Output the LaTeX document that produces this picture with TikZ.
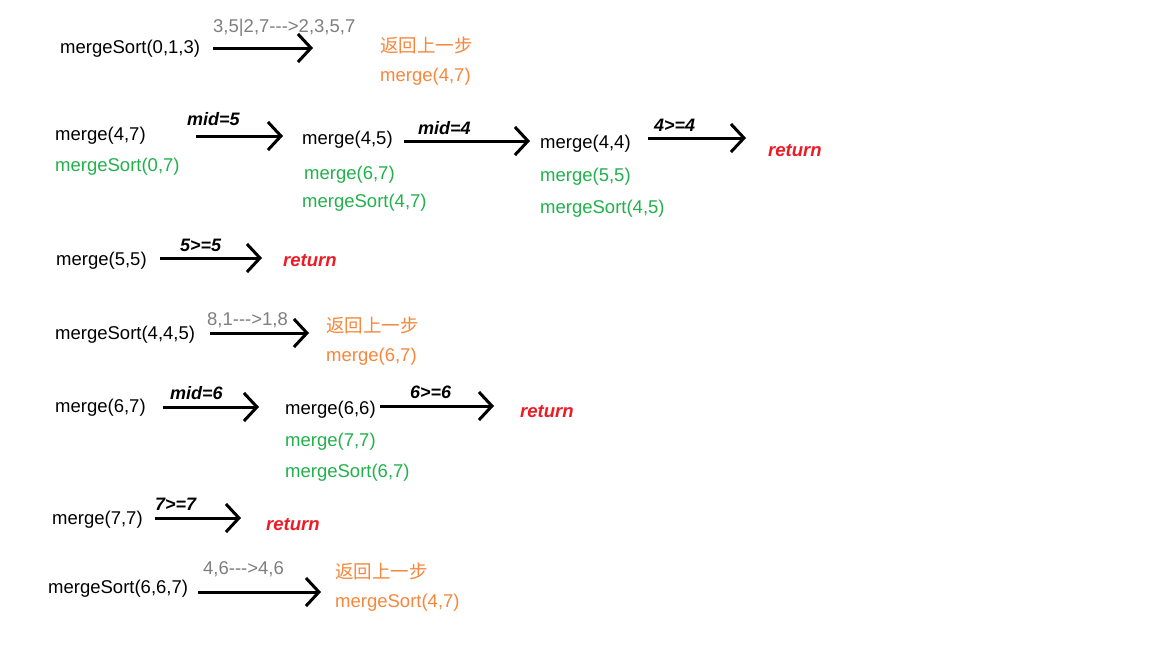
\documentclass[tikz,border=0pt]{standalone}
\usepackage{fontspec}
\setmainfont{Liberation Sans}
\newfontfamily\cjk{Noto Sans CJK SC}
\usetikzlibrary{arrows.meta}
\definecolor{ogreen}{RGB}{34,177,76}
\definecolor{oorange}{RGB}{247,135,60}
\definecolor{ored}{RGB}{237,28,36}
\definecolor{ogray}{RGB}{127,127,127}
\begin{document}
\begin{tikzpicture}[x=1pt,y=-1pt,
  every node/.style={anchor=west,inner sep=0pt,font=\fontsize{18.5}{20}\selectfont},
  call/.style={text=black},
  pend/.style={text=ogreen},
  back/.style={text=oorange},
  note/.style={text=ogray},
  cond/.style={text=black,font=\fontsize{18}{20}\selectfont\bfseries\itshape},
  ret/.style={text=ored,font=\fontsize{18.5}{20}\selectfont\bfseries\itshape},
  flow/.style={line width=3pt,-{Straight Barb[length=13pt,width=28pt,line width=3pt]}}]
\useasboundingbox[fill=white] (0,0) rectangle (1152,648);

% Row 1
\node[call] (a1) at (60,49) {mergeSort(0,1,3)};
\node[note] (a1n) at (213,28) {3,5|2,7-{}-{}->2,3,5,7};
\node[back] (a1b) at (380,45) {\cjk 返回上一步};
\node[back] (a1c) at (380,77) {merge(4,7)};
\coordinate (a1s) at (213,48);
\coordinate (a1e) at (313,48);
\draw[flow] (a1s) -- (a1e);

% Row 2
\node[call] (b1) at (55,136) {merge(4,7)};
\node[pend] (b1g) at (55,167) {mergeSort(0,7)};
\node[cond] (b1l) at (187,119) {mid=5};
\node[call] (b2) at (302,140) {merge(4,5)};
\node[pend] (b2g) at (304,175) {merge(6,7)};
\node[pend] (b2h) at (302,203) {mergeSort(4,7)};
\node[cond] (b2l) at (418,128) {mid=4};
\node[call] (b3) at (540,144) {merge(4,4)};
\node[pend] (b3g) at (540,177) {merge(5,5)};
\node[pend] (b3h) at (540,209) {mergeSort(4,5)};
\node[cond] (b3l) at (654,125) {4>=4};
\node[ret] (b4) at (768,151) {return};
\coordinate (b1s) at (196,136);
\coordinate (b1e) at (283,136);
\coordinate (b2s) at (404,141);
\coordinate (b2e) at (530,141);
\coordinate (b3s) at (648,138);
\coordinate (b3e) at (746,138);
\draw[flow] (b1s) -- (b1e);
\draw[flow] (b2s) -- (b2e);
\draw[flow] (b3s) -- (b3e);

% Row 3
\node[call] (c1) at (56,261) {merge(5,5)};
\node[cond] (c1l) at (180,245) {5>=5};
\node[ret] (c2) at (283,261) {return};
\coordinate (c1s) at (160,258);
\coordinate (c1e) at (262,258);
\draw[flow] (c1s) -- (c1e);

% Row 4
\node[call] (d1) at (55,335) {mergeSort(4,4,5)};
\node[note] (d1n) at (207,320) {8,1-{}-{}->1,8};
\node[back] (d1b) at (326,325) {\cjk 返回上一步};
\node[back] (d1c) at (326,357) {merge(6,7)};
\coordinate (d1s) at (210,333);
\coordinate (d1e) at (309,333);
\draw[flow] (d1s) -- (d1e);

% Row 5
\node[call] (e1) at (55,408) {merge(6,7)};
\node[cond] (e1l) at (170,393) {mid=6};
\node[call] (e2) at (285,410) {merge(6,6)};
\node[pend] (e2g) at (285,442) {merge(7,7)};
\node[pend] (e2h) at (285,473) {mergeSort(6,7)};
\node[cond] (e2l) at (410,392) {6>=6};
\node[ret] (e3) at (520,412) {return};
\coordinate (e1s) at (163,407);
\coordinate (e1e) at (259,407);
\coordinate (e2s) at (380,406);
\coordinate (e2e) at (494,406);
\draw[flow] (e1s) -- (e1e);
\draw[flow] (e2s) -- (e2e);

% Row 6
\node[call] (f1) at (52,520) {merge(7,7)};
\node[cond] (f1l) at (155,504) {7>=7};
\node[ret] (f2) at (266,525) {return};
\coordinate (f1s) at (155,518);
\coordinate (f1e) at (241,518);
\draw[flow] (f1s) -- (f1e);

% Row 7
\node[call] (g1) at (48,589) {mergeSort(6,6,7)};
\node[note] (g1n) at (203,569) {4,6-{}-{}->4,6};
\node[back] (g1b) at (335,571) {\cjk 返回上一步};
\node[back] (g1c) at (335,603) {mergeSort(4,7)};
\coordinate (g1s) at (198,592);
\coordinate (g1e) at (321,592);
\draw[flow] (g1s) -- (g1e);
\end{tikzpicture}
\end{document}
